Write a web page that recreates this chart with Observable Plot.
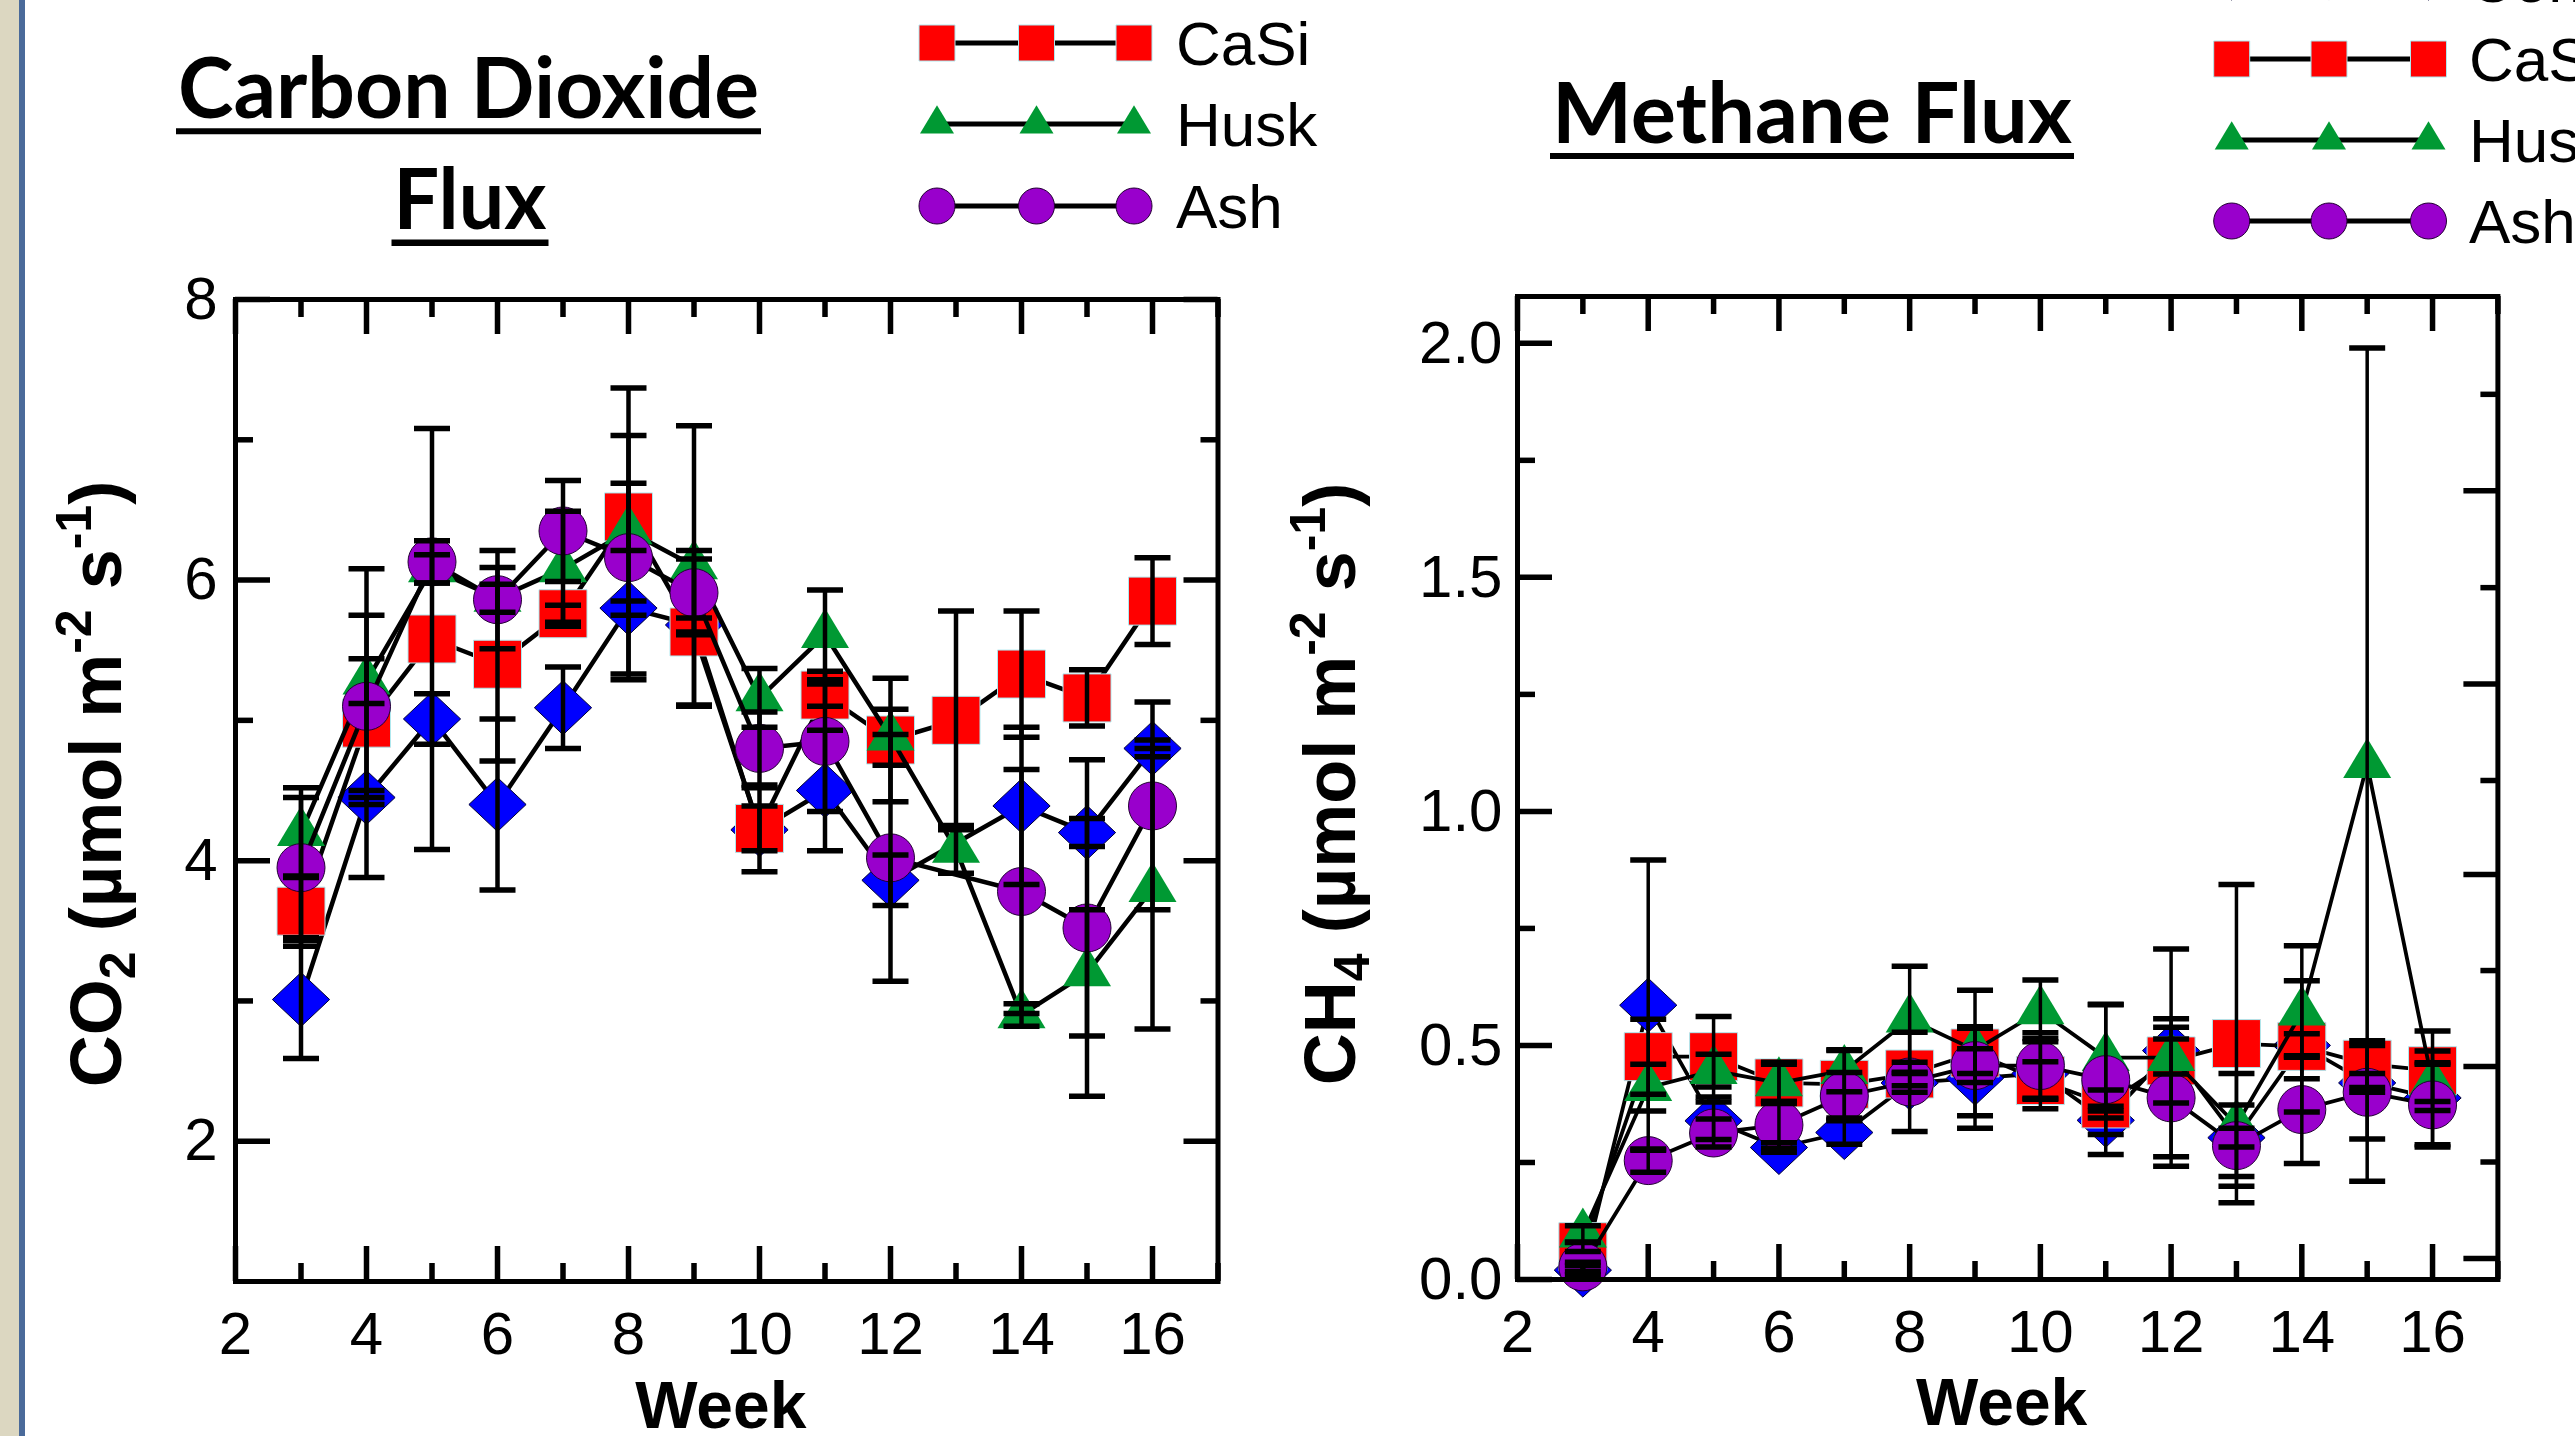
<!DOCTYPE html>
<html><head><meta charset="utf-8">
<script src="https://cdn.jsdelivr.net/npm/d3@7"></script>
<script src="https://cdn.jsdelivr.net/npm/@observablehq/plot@0.6"></script>
<style>
html,body{margin:0;padding:0;background:#fff;overflow:hidden;}
#page{position:relative;width:2575px;height:1436px;overflow:hidden;background:#fff;}
#page > *{position:absolute;}
</style></head><body><div id="page"></div>
<script>
// ---------------- DATA ----------------
const weeks = [3,4,5,6,7,8,9,10,11,12,13,14,15,16];
const seriesNames = ["Control","CaSi","Husk","Ash"];

// CO2 flux (umol m-2 s-1)
const co2Control    = [3.01,4.45,5.01,4.40,5.09,5.80,5.68,4.22,4.50,3.86,null,4.39,4.20,4.80];
const co2ControlErr = [0.42,0.05,0.18,0.61,0.29,0.05,0.05,0.30,0.43,0.18,null,0.56,0.10,0.06];
const co2CaSi       = [3.64,4.98,5.58,5.40,5.76,6.45,5.63,4.23,5.18,4.86,5.00,5.33,5.16,5.85];
const co2CaSiErr    = [0.25,1.10,1.50,0.69,0.06,0.24,0.52,0.16,0.08,0.44,0.78,0.45,0.20,0.31];
const co2Husk       = [4.20,5.28,6.08,5.87,6.08,6.35,6.10,5.16,5.61,4.88,4.08,2.90,3.20,3.80];
const co2HuskErr    = [0.32,0.16,0.10,0.10,0.41,1.02,1.00,0.21,0.32,0.20,0.17,0.08,0.45,1.00];
const co2Ash        = [3.95,5.10,6.13,5.86,6.35,6.16,5.91,4.80,4.85,4.02,null,3.78,3.52,4.39];
const co2AshErr     = [0.50,0.65,0.15,0.35,0.36,0.87,0.30,0.26,0.50,0.88,null,0.87,1.20,0.74];

// CH4 flux (umol m-2 s-1)
const ch4Control    = [0.020,0.586,0.339,0.282,0.314,0.420,0.430,0.440,0.340,0.489,0.303,0.500,0.420,0.388];
const ch4ControlErr = [0.010,0.310,0.040,0.010,0.025,0.020,0.107,0.075,0.030,0.050,0.020,0.025,0.020,0.100];
const ch4CaSi       = [0.070,0.476,0.476,0.420,0.417,0.439,0.484,0.425,0.375,0.467,0.504,0.498,0.460,0.446];
const ch4CaSiErr    = [0.010,0.080,0.086,0.044,0.072,0.025,0.134,0.040,0.030,0.090,0.340,0.140,0.050,0.085];
const ch4Husk       = [0.097,0.410,0.446,0.420,0.446,0.556,0.490,0.574,0.474,0.474,0.330,0.571,1.100,0.420];
const ch4HuskErr    = [0.018,0.050,0.035,0.040,0.045,0.113,0.050,0.066,0.114,0.232,0.110,0.142,0.890,0.040];
const ch4Ash        = [0.027,0.254,0.313,0.330,0.392,0.422,0.457,0.457,0.427,0.388,0.286,0.363,0.400,0.373];
const ch4AshErr     = [0.010,0.025,0.030,0.050,0.050,0.106,0.036,0.070,0.160,0.126,0.087,0.115,0.100,0.090];

// tick values
const xLabels = [2,4,6,8,10,12,14,16];
const xMajor  = [2,4,6,8,10,12,14,16];
const xMinor  = [3,5,7,9,11,13,15,17];
const co2Labels = [2,4,6,8];
const co2Major  = [2,4,6,8];
const co2Minor  = [3,5,7];
const ch4Labels = [0,0.5,1,1.5,2];
const ch4Major  = [0,0.5,1,1.5,2];
const ch4Minor  = [0.25,0.75,1.25,1.75];
const ch4RightMajor = [0.045,0.455,0.865,1.272,1.685];
const ch4RightMinor = [0.251,0.660,1.066,1.478,1.891];

// ---------------- BUILD TABLES ----------------
function buildRows(means, errs) {
  const rows = [];
  seriesNames.forEach((s, k) => {
    weeks.forEach((w, i) => {
      const v = means[k][i];
      if (v == null) return;
      const e = errs[k][i];
      rows.push({series: s, week: w, value: v, lo: v - e, hi: v + e});
    });
  });
  return rows;
}
const co2Rows = buildRows([co2Control, co2CaSi, co2Husk, co2Ash], [co2ControlErr, co2CaSiErr, co2HuskErr, co2AshErr]);
const ch4Rows = buildRows([ch4Control, ch4CaSi, ch4Husk, ch4Ash], [ch4ControlErr, ch4CaSiErr, ch4HuskErr, ch4AshErr]);

// ---------------- SYMBOLS & STYLES ----------------
const rad = size => Math.sqrt(size / Math.PI);
const symSquare = {draw(c, size){const r = rad(size); c.rect(-r,-r,2*r,2*r);}};
const symDiamond = {draw(c, size){const r = rad(size); c.moveTo(0,-r); c.lineTo(1.06*r,0); c.lineTo(0,r); c.lineTo(-1.06*r,0); c.closePath();}};
const symTriangle = {draw(c, size){const r = rad(size); c.moveTo(0,-1.11*r); c.lineTo(r,0.555*r); c.lineTo(-r,0.555*r); c.closePath();}};
const symCircle = {draw(c, size){const r = rad(size); c.moveTo(r,0); c.arc(0,0,r,0,2*Math.PI);}};
const symCap = {draw(c, size){const r = rad(size); c.moveTo(-r,0); c.lineTo(r,0);}};

const style = {
  Control: {symbol: symDiamond,  fill: "#0000ff", stroke: "#000033", r: 27, lr: 20},
  CaSi:    {symbol: symSquare,   fill: "#ff0000", stroke: "#aee8ee", r: 24, lr: 18},
  Husk:    {symbol: symTriangle, fill: "#009933", stroke: "none",    r: 24, lr: 17},
  Ash:     {symbol: symCircle,   fill: "#9900cc", stroke: "#220033", r: 24, lr: 18}
};

const FONT = "'Liberation Sans', Arial, Helvetica, sans-serif";

// ---------------- PANEL ----------------
function makePanel(cfg) {
  const innerW = cfg.width - cfg.marginLeft - cfg.marginRight;
  const innerH = cfg.height - cfg.marginTop - cfg.marginBottom;
  const tk = {stroke: "black", strokeWidth: 5.5};
  const marks = [];
  for (const s of seriesNames) {
    const d = cfg.rows.filter(r => r.series === s);
    marks.push(Plot.line(d, {x: "week", y: "value", stroke: "black", strokeWidth: cfg.lineWidth, strokeLinejoin: "miter"}));
    marks.push(Plot.dot(d, {x: "week", y: "value", symbol: style[s].symbol, r: style[s].r, fill: style[s].fill, stroke: style[s].stroke, strokeWidth: 1}));
  }
  for (const s of seriesNames) {
    const d = cfg.rows.filter(r => r.series === s);
    marks.push(Plot.ruleX(d, {x: "week", y1: "lo", y2: "hi", stroke: "black", strokeWidth: cfg.barWidth}));
    marks.push(Plot.dot(d, {x: "week", y: "hi", symbol: symCap, r: 18, fill: "none", stroke: "black", strokeWidth: 5.5}));
    marks.push(Plot.dot(d, {x: "week", y: "lo", symbol: symCap, r: 18, fill: "none", stroke: "black", strokeWidth: 5.5}));
  }
  // inward ticks, all four sides
  marks.push(
    Plot.tickX(xMajor, {x: d => d, ...tk, insetTop: innerH - 35}),
    Plot.tickX(xMinor, {x: d => d, ...tk, insetTop: innerH - 18}),
    Plot.tickX(xMajor, {x: d => d, ...tk, insetBottom: innerH - 35}),
    Plot.tickX(xMinor, {x: d => d, ...tk, insetBottom: innerH - 18}),
    Plot.tickY(cfg.yMajor, {y: d => d, ...tk, insetRight: innerW - 35}),
    Plot.tickY(cfg.yMinor, {y: d => d, ...tk, insetRight: innerW - 18}),
    Plot.tickY(cfg.yRightMajor, {y: d => d, ...tk, insetLeft: innerW - 34}),
    Plot.tickY(cfg.yRightMinor, {y: d => d, ...tk, insetLeft: innerW - 17}),
    Plot.frame({stroke: "black", strokeWidth: 5}),
    Plot.axisX({ticks: xLabels, tickSize: 0, tickPadding: 30, fontSize: 60, label: null, anchor: "bottom"}),
    Plot.axisY({ticks: cfg.yLabels, tickSize: 0, tickPadding: cfg.yPad, fontSize: 60, label: null, anchor: "left", tickFormat: cfg.yFormat}),
    Plot.text(["Week"], {text: d => d, frameAnchor: "bottom", lineAnchor: "middle", dy: cfg.weekDy, dx: -6, fontSize: 66, fontWeight: "bold"})
  );
  const svg = Plot.plot({
    width: cfg.width, height: cfg.height,
    marginLeft: cfg.marginLeft, marginRight: cfg.marginRight,
    marginTop: cfg.marginTop, marginBottom: cfg.marginBottom,
    x: {domain: [2, 17], nice: false},
    y: {domain: cfg.yDomain, nice: false},
    style: {fontFamily: FONT, background: "transparent", overflow: "visible", maxWidth: "none", color: "black"},
    marks
  });
  return svg;
}

const page = document.getElementById("page");

// left window frame strip
const strip = document.createElement("div");
Object.assign(strip.style, {left: "0px", top: "0px", width: "19px", height: "1436px", background: "#dcd7c1"});
page.appendChild(strip);
const stripLine = document.createElement("div");
Object.assign(stripLine.style, {left: "19px", top: "0px", width: "6px", height: "1436px", background: "#4a6a9a"});
page.appendChild(stripLine);

const leftPlot = makePanel({
  rows: co2Rows, width: 1290, height: 1436,
  marginLeft: 235, marginRight: 72.5, marginTop: 299, marginBottom: 155,
  yDomain: [1, 8], yLabels: co2Labels, yMajor: co2Major, yMinor: co2Minor,
  yRightMajor: co2Major, yRightMinor: co2Minor, yFormat: d => String(d), yPad: 18,
  lineWidth: 4.5, barWidth: 4.5, weekDy: 125
});
leftPlot.style.left = "0px"; leftPlot.style.top = "0px";
page.appendChild(leftPlot);

const rightPlot = makePanel({
  rows: ch4Rows, width: 1285, height: 1436,
  marginLeft: 227, marginRight: 77.6, marginTop: 296, marginBottom: 157,
  yDomain: [0, 2.1], yLabels: ch4Labels, yMajor: ch4Major, yMinor: ch4Minor,
  yRightMajor: ch4RightMajor, yRightMinor: ch4RightMinor, yFormat: d3.format(".1f"), yPad: 15,
  lineWidth: 3.8, barWidth: 3.5, weekDy: 124
});
rightPlot.style.left = "1290px"; rightPlot.style.top = "0px";
page.appendChild(rightPlot);

// ---------------- OVERLAY: titles, legends, axis titles ----------------
const ov = d3.select(page).append("svg")
  .attr("width", 2575).attr("height", 1436)
  .style("left", "0px").style("top", "0px").style("pointer-events", "none").style("overflow", "hidden");

function title(text, cx, baseline, width, ulY, ulW) {
  ov.append("text").attr("x", cx).attr("y", baseline).attr("text-anchor", "middle")
    .attr("font-family", "Lato, 'Open Sans', sans-serif").attr("font-weight", 700).attr("font-size", 84)
    .attr("textLength", width).attr("lengthAdjust", "spacingAndGlyphs").text(text);
  ov.append("line").attr("x1", cx - width / 2 - 2).attr("x2", cx + width / 2 + 2)
    .attr("y1", ulY).attr("y2", ulY).attr("stroke", "black").attr("stroke-width", ulW);
}
title("Carbon Dioxide", 468.5, 118, 581, 131.3, 6);
title("Flux", 470, 229, 153, 242.7, 6.5);
title("Methane Flux", 1812, 143, 520, 156, 6);

function legend(cxs, textX, rows) {
  for (const row of rows) {
    const st = style[row.name];
    ov.append("line").attr("x1", cxs[0]).attr("x2", cxs[cxs.length - 1]).attr("y1", row.cy).attr("y2", row.cy)
      .attr("stroke", "black").attr("stroke-width", 5);
    for (const cx of cxs) {
      ov.append("path").attr("transform", `translate(${cx},${row.cy})`)
        .attr("d", d3.symbol(st.symbol, Math.PI * st.lr * st.lr)())
        .attr("fill", st.fill).attr("stroke", st.stroke).attr("stroke-width", 1);
    }
    ov.append("text").attr("x", textX).attr("y", row.cy + 22)
      .attr("font-family", FONT).attr("font-size", 62).text(row.name);
  }
}
legend([937, 1036.5, 1134], 1176, [
  {name: "Control", cy: -38}, {name: "CaSi", cy: 43}, {name: "Husk", cy: 124}, {name: "Ash", cy: 206}
]);
legend([2231.7, 2329, 2428.5], 2469, [
  {name: "Control", cy: -20}, {name: "CaSi", cy: 59}, {name: "Husk", cy: 140}, {name: "Ash", cy: 221}
]);

function axisTitle(x, y, parts) {
  const t = ov.append("text").attr("transform", `translate(${x},${y}) rotate(-90)`)
    .attr("text-anchor", "middle").attr("font-family", FONT).attr("font-weight", "bold").attr("font-size", 72);
  let shift = 0;
  for (const [s, kind] of parts) {
    const target = kind === "sub" ? 14 : kind === "sup" ? -30 : 0;
    const ts = t.append("tspan").attr("dy", target - shift).text(s);
    if (kind) ts.attr("font-size", 50);
    shift = target;
  }
}
axisTitle(121, 784, [["CO"], ["2", "sub"], [" (\u00b5mol m"], ["-2", "sup"], [" s"], ["-1", "sup"], [")"]]);
axisTitle(1355, 784, [["CH"], ["4", "sub"], [" (\u00b5mol m"], ["-2", "sup"], [" s"], ["-1", "sup"], [")"]]);
</script>
</body></html>
